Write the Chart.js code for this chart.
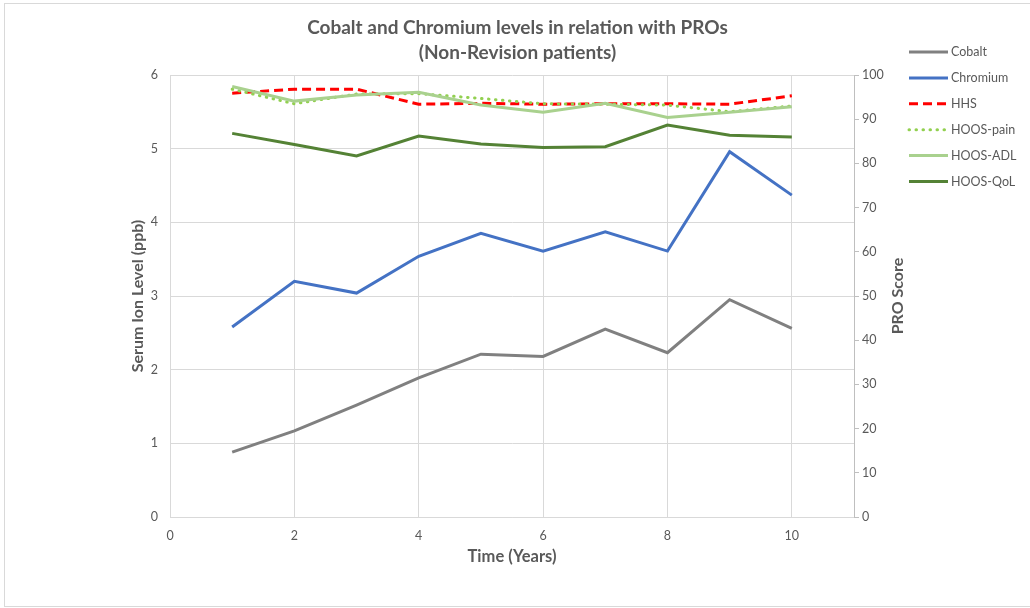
<!DOCTYPE html>
<html>
<head>
<meta charset="utf-8">
<script src="https://cdn.jsdelivr.net/npm/chart.js@4.4.1/dist/chart.umd.min.js"></script>
<style>
    html, body { margin: 0; padding: 0; background: #fff; }
    #wrap { width: 1030px; height: 608px; }
</style>
</head>
<body>
<div id="wrap"><canvas id="proChart" width="1030" height="608"></canvas></div>
<script>
// data
const years = [1, 2, 3, 4, 5, 6, 7, 8, 9, 10];
const cobalt = [0.88, 1.17, 1.52, 1.89, 2.21, 2.18, 2.55, 2.23, 2.95, 2.56];
const chromium = [2.58, 3.20, 3.04, 3.54, 3.85, 3.61, 3.87, 3.61, 4.96, 4.37];
const hhs = [95.9, 96.8, 96.8, 93.4, 93.6, 93.4, 93.5, 93.5, 93.4, 95.3];
const hoosPain = [96.8, 93.5, 95.7, 95.8, 94.7, 93.5, 93.4, 93.2, 91.7, 93.0];
const hoosAdl = [97.4, 94.1, 95.5, 96.1, 93.2, 91.6, 93.6, 90.4, 91.6, 92.8];
const hoosQol = [86.8, 84.3, 81.7, 86.2, 84.4, 83.6, 83.8, 88.7, 86.4, 86.0];

const xTicks = [0, 2, 4, 6, 8, 10];
const textColor = '#595959';
const fontFamily = 'Lato, "Open Sans", sans-serif';

function pts(values) {
    return values.map((v, i) => ({ x: years[i], y: v }));
}

const series = [
    { label: 'Cobalt', data: cobalt, axis: 'y', color: '#808080', dash: [] },
    { label: 'Chromium', data: chromium, axis: 'y', color: '#4472c4', dash: [] },
    { label: 'HHS', data: hhs, axis: 'y1', color: '#ff0000', dash: [9, 5] },
    { label: 'HOOS-pain', data: hoosPain, axis: 'y1', color: '#92d050', dash: [0.5, 6.5], cap: 'round' },
    { label: 'HOOS-ADL', data: hoosAdl, axis: 'y1', color: '#a9d18e', dash: [] },
    { label: 'HOOS-QoL', data: hoosQol, axis: 'y1', color: '#548235', dash: [] }
];

// legend + right axis title drawn by hand (line styles, upward text)
const lineLegend = {
    id: 'lineLegend',
    beforeDraw(chart) {
        let ctx = chart.ctx;
        ctx.save();
        ctx.fillStyle = '#fff';
        ctx.fillRect(0, 0, chart.width, chart.height);
        ctx.strokeStyle = '#d9d9d9';
        ctx.lineWidth = 1;
        ctx.strokeRect(4.5, 3.5, 1040, 603);
        ctx.restore();
    },
    afterDraw(chart) {
        let ctx = chart.ctx;
        ctx.save();
        chart.data.datasets.forEach((ds, i) => {
            let y = 52 + i * 25.9;
            ctx.beginPath();
            ctx.strokeStyle = ds.borderColor;
            ctx.lineWidth = 3;
            ctx.lineCap = ds.borderCapStyle || 'butt';
            ctx.setLineDash(ds.borderDash || []);
            ctx.moveTo(909, y);
            ctx.lineTo(948, y);
            ctx.stroke();
            ctx.setLineDash([]);
            ctx.fillStyle = textColor;
            ctx.font = '12.5px ' + fontFamily;
            ctx.textBaseline = 'middle';
            ctx.fillText(ds.label, 951, y);
        });

        let area = chart.chartArea;
        ctx.translate(898, (area.top + area.bottom) / 2);
        ctx.rotate(-Math.PI / 2);
        ctx.font = 'bold 16px ' + fontFamily;
        ctx.fillStyle = textColor;
        ctx.textAlign = 'center';
        ctx.textBaseline = 'middle';
        ctx.fillText('PRO Score', 0, 0);
        ctx.restore();
    }
};

new Chart(document.getElementById('proChart'), {
    type: 'line',
    data: {
        datasets: series.map((s, i) => ({
            label: s.label,
            data: pts(s.data),
            yAxisID: s.axis,
            borderColor: s.color,
            backgroundColor: s.color,
            borderWidth: 3,
            borderDash: s.dash,
            borderCapStyle: s.cap || 'butt',
            pointRadius: 0,
            tension: 0,
            order: series.length - i
        }))
    },
    options: {
        responsive: false,
        animation: false,
        layout: { padding: { left: 124, right: 119, top: 0, bottom: 0 } },
        plugins: {
            legend: { display: false },
            tooltip: { enabled: false },
            title: {
                display: true,
                text: ['Cobalt and Chromium levels in relation with PROs', '(Non-Revision patients)'],
                color: textColor,
                font: { family: fontFamily, size: 19, weight: 'bold', lineHeight: 1.33 },
                padding: { top: 15, bottom: 9.5 }
            }
        },
        scales: {
            x: {
                type: 'linear',
                min: 0,
                max: 11,
                afterBuildTicks: scale => { scale.ticks = xTicks.map(v => ({ value: v })); },
                afterFit: scale => { scale.height = 91; },
                grid: { color: '#d9d9d9', drawTicks: false },
                border: { color: '#d9d9d9' },
                ticks: { color: textColor, font: { family: fontFamily, size: 12.5 }, padding: 11 },
                title: {
                    display: true,
                    text: 'Time (Years)',
                    color: textColor,
                    font: { family: fontFamily, size: 16.5, weight: 'bold' },
                    padding: { top: 0, bottom: 41 }
                }
            },
            y: {
                position: 'left',
                min: 0,
                max: 6,
                ticks: { stepSize: 1, color: textColor, font: { family: fontFamily, size: 12.5 }, padding: 12 },
                afterFit: scale => { scale.width = 46; },
                grid: { color: '#d9d9d9', drawTicks: false },
                border: { color: '#d9d9d9' },
                title: {
                    display: true,
                    text: 'Serum Ion Level (ppb)',
                    color: textColor,
                    font: { family: fontFamily, size: 16, weight: 'bold' },
                    padding: { top: 4, bottom: 0 }
                }
            },
            y1: {
                position: 'right',
                min: 0,
                max: 100,
                ticks: { stepSize: 10, color: textColor, font: { family: fontFamily, size: 12.5 }, padding: 3 },
                afterFit: scale => { scale.width = 57; },
                grid: { drawOnChartArea: false, color: '#bfbfbf', tickLength: 5 },
                border: { color: '#bfbfbf' },
                title: { display: false }
            }
        }
    },
    plugins: [lineLegend]
});
</script>
</body>
</html>
